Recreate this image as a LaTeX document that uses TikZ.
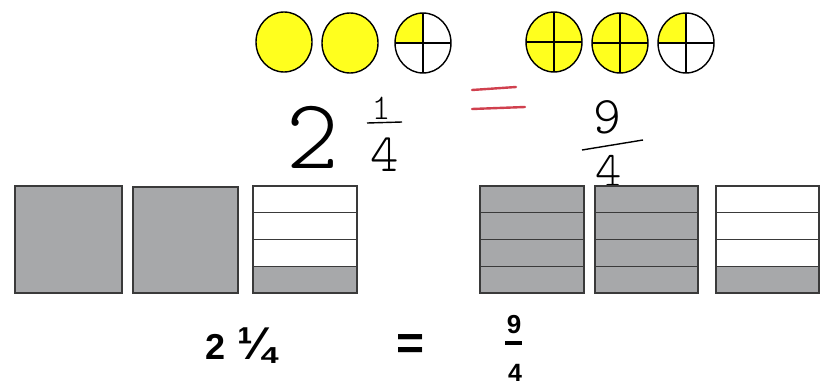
\documentclass[tikz,border=0pt]{standalone}
\usepackage{fontspec}
\newfontfamily\hand{lmmonolt10-regular.otf}
\newfontfamily\sansf{Liberation Sans}
\definecolor{hl}{HTML}{FFFF1E}
\definecolor{boxgray}{HTML}{A7A8AA}
\definecolor{boxline}{HTML}{3A3A3A}
\definecolor{redmark}{HTML}{D0404E}
\tikzset{
  circ/.style={draw=black, line width=1.4pt},
  crossln/.style={draw=black, line width=1.4pt},
  boxst/.style={draw=boxline, line width=1.3pt},
  hw/.style={inner sep=0pt, text=black},
  pt/.style={inner sep=0pt, text=black, font=\sansf\bfseries},
}
\begin{document}
\begin{tikzpicture}[x=1pt,y=-1pt]
\useasboundingbox (0,0) rectangle (826,385);
\fill[white] (0,0) rectangle (826,385);
% whole yellow circles
\foreach \cx/\cy in {284/42, 350/43}{
  \draw[circ, fill=hl] (\cx,\cy) ellipse [x radius=28, y radius=30];
}
% quartered full circles
\foreach \cx/\cy in {554/42, 620/43}{
  \draw[circ, fill=hl] (\cx,\cy) ellipse [x radius=28, y radius=30];
  \draw[crossln] (\cx-28,\cy) -- (\cx+28,\cy) (\cx,\cy-30) -- (\cx,\cy+30);
}
% quartered circles with one quarter
\foreach \cx/\cy in {423/43, 686/43}{
  \fill[hl] (\cx,\cy) -- (\cx-28,\cy) arc[start angle=180, end angle=270, x radius=28, y radius=30] -- cycle;
  \draw[circ] (\cx,\cy) ellipse [x radius=28, y radius=30];
  \draw[crossln] (\cx-28,\cy) -- (\cx+28,\cy) (\cx,\cy-30) -- (\cx,\cy+30);
}
% handwritten 2 1/4
\node[hw, anchor=base, font=\hand\fontsize{100}{100}\selectfont] (htwo) at (313,168) {2};
\node[hw, anchor=base, font=\hand\fontsize{36}{36}\selectfont] (hone) at (381,120) {1};
\draw[line width=1.4pt] (367,123) -- (402,122);
\node[hw, anchor=base, font=\hand\fontsize{54}{54}\selectfont] (hfour) at (385,171) {4};
% red equals
\draw[redmark, line width=2.4pt, line cap=round] (472,90) -- (516,87);
\draw[redmark, line width=2.4pt, line cap=round] (472,109) -- (525,107);
% handwritten 9/4
\node[hw, anchor=base, font=\hand\fontsize{53}{53}\selectfont] (hnine) at (607,133) {9};
\draw[line width=1.4pt] (582,150) -- (643,140);
\node[hw, anchor=base, font=\hand\fontsize{50}{50}\selectfont] (hfourb) at (609,186) {4};
% bottom squares
\draw[boxst, fill=boxgray] (15,186) rectangle (122,293);
\draw[boxst, fill=boxgray] (133,187) rectangle (238,293);
\foreach \xa/\xb/\ng in {253/357/1, 480/584/4, 595/698/4, 716/819/1}{
  \fill[white] (\xa,186) rectangle (\xb,293);
  \fill[boxgray] (\xa,{293-26.75*\ng}) rectangle (\xb,293);
  \foreach \k in {1,2,3}{
    \draw[boxst] (\xa,{186+26.75*\k}) -- (\xb,{186+26.75*\k});
  }
  \draw[boxst] (\xa,186) rectangle (\xb,293);
}
% printed text
\node[pt, anchor=base, font=\sansf\bfseries\fontsize{36}{36}\selectfont] (ptwo) at (215.5,359) {2};
\node[pt, anchor=base, font=\sansf\bfseries\fontsize{46}{46}\selectfont] (pquarter) at (257,359) {¼};
\node[pt, anchor=base, font=\sansf\bfseries\fontsize{48}{48}\selectfont] (peq) at (410.5,359) {=};
\node[pt, anchor=base, font=\sansf\bfseries\fontsize{26}{26}\selectfont] (pnine) at (514,333) {9};
\fill[black] (505,341) rectangle (522,345);
\node[pt, anchor=base, font=\sansf\bfseries\fontsize{25}{25}\selectfont] (pfour) at (515,381) {4};
\end{tikzpicture}
\end{document}
